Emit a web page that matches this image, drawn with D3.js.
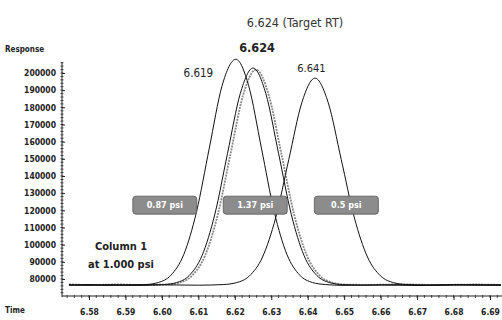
<!DOCTYPE html>
<html lang="en">
<head>
<meta charset="utf-8">
<title>Chromatogram</title>
<script src="https://d3js.org/d3.v7.min.js"></script>
<style>
  body { margin: 0; background: #fff; }
  svg text { font-family: "DejaVu Sans Condensed", "DejaVu Sans", sans-serif; }
  .tick text { font-weight: bold; font-size: 8.5px; fill: #222; }
  .axis path, .axis line { stroke: #222; }
</style>
</head>
<body>
<script>
// time (min), response
var peak619 = [[6.5745,76400],[6.580,76750],[6.585,76250],[6.590,76650],[6.5955,76790],[6.599,77960],[6.6025,82275],
  [6.606,94290],[6.6095,119200],[6.613,156255],[6.6165,192550],[6.6203,208000],[6.6238,192550],[6.6273,156255],
  [6.6308,119200],[6.6343,94290],[6.6378,82275],[6.6413,77960],[6.6448,76790],[6.650,76300],[6.660,76550],
  [6.670,76250],[6.680,76600],[6.693,76350]];
var peak624 = [[6.5745,76600],[6.580,76300],[6.586,76700],[6.592,76350],[6.6005,76780],[6.604,77900],[6.6075,82050],
  [6.611,93600],[6.6145,117540],[6.618,153160],[6.6215,188050],[6.625,202900],[6.6285,188050],[6.632,153160],
  [6.6355,117540],[6.639,93600],[6.6425,82050],[6.646,77900],[6.6495,76780],[6.656,76450],[6.665,76700],
  [6.675,76300],[6.685,76650],[6.693,76450]];
var peakTarget = [[6.5745,76900],[6.581,76500],[6.588,76850],[6.594,76500],[6.6013,76780],[6.6048,77890],[6.6083,82010],
  [6.6118,93480],[6.6153,117250],[6.6188,152620],[6.6223,187250],[6.6258,202000],[6.6293,187250],[6.6328,152620],
  [6.6363,117250],[6.6398,93480],[6.6433,82010],[6.6468,77890],[6.6503,76780],[6.657,76600],[6.666,76850],
  [6.676,76550],[6.686,76800],[6.693,76600]];
var peak641 = [[6.5745,76500],[6.582,76650],[6.590,76300],[6.600,76600],[6.610,76400],[6.6168,76765],[6.6204,77840],
  [6.624,81790],[6.6276,92800],[6.6312,115630],[6.6348,149580],[6.6384,182840],[6.642,197000],[6.6456,182840],
  [6.6492,149580],[6.6528,115630],[6.6564,92800],[6.660,81790],[6.6636,77840],[6.6672,76765],[6.672,76500],
  [6.680,76750],[6.687,76400],[6.693,76600]];

var xTicks = [6.58, 6.59, 6.60, 6.61, 6.62, 6.63, 6.64, 6.65, 6.66, 6.67, 6.68, 6.69];
var yTicks = [80000, 90000, 100000, 110000, 120000, 130000, 140000, 150000, 160000, 170000, 180000, 190000, 200000];

var peakLabels = [
  {t: 6.6261, v: 212230, text: "6.624", bold: true, size: 12.5},
  {t: 6.6100, v: 197670, text: "6.619", bold: false, size: 11.5},
  {t: 6.6410, v: 200580, text: "6.641", bold: false, size: 11}
];
var pressureLabels = [
  {t: 6.6008, v: 123000, text: "0.87 psi"},
  {t: 6.6256, v: 123000, text: "1.37 psi"},
  {t: 6.6506, v: 123000, text: "0.5 psi"}
];

var width = 502, height = 320;
var x = d3.scaleLinear().domain([6.58, 6.69]).range([89, 490]);
var y = d3.scaleLinear().domain([80000, 200000]).range([279, 73]);

var svg = d3.select("body").append("svg")
  .attr("width", width)
  .attr("height", height);

// axes
var yAxis = svg.append("g").attr("class", "axis")
  .attr("transform", "translate(62,0)")
  .call(d3.axisLeft(y).tickValues(yTicks).tickSize(-3).tickPadding(6).tickFormat(d3.format("d")));
yAxis.select(".domain").remove();
yAxis.append("line").attr("x1", 0).attr("x2", 0).attr("y1", 62).attr("y2", 297).attr("stroke", "#222");
yAxis.selectAll(".minor").data(d3.range(72000, 220000, 2000))
  .enter().append("line")
  .attr("x1", -1.5).attr("x2", 1.5)
  .attr("y1", function(d) { return y(d); }).attr("y2", function(d) { return y(d); })
  .attr("stroke", "#222").attr("stroke-width", 0.8)
  .filter(function(d) { return y(d) < 62 || y(d) > 297; }).remove();

var xAxis = svg.append("g").attr("class", "axis")
  .attr("transform", "translate(0,296)")
  .call(d3.axisBottom(x).tickValues(xTicks).tickSize(4).tickPadding(9).tickFormat(d3.format(".2f")));
xAxis.select(".domain").remove();
xAxis.append("line").attr("x1", 62).attr("x2", 502).attr("y1", 0).attr("y2", 0).attr("stroke", "#222");
xAxis.selectAll(".minor").data(d3.range(6.574, 6.694, 0.002))
  .enter().append("line")
  .attr("x1", function(d) { return x(d); }).attr("x2", function(d) { return x(d); })
  .attr("y1", -1).attr("y2", 2)
  .attr("stroke", "#222").attr("stroke-width", 0.8);

svg.append("text").attr("x", 5).attr("y", 52)
  .attr("font-size", 8).attr("font-weight", "bold").attr("fill", "#222").text("Response");
svg.append("text").attr("x", 5).attr("y", 313)
  .attr("font-size", 8).attr("font-weight", "bold").attr("fill", "#222").text("Time");

// traces
var line = d3.line()
  .x(function(d) { return x(d[0]); })
  .y(function(d) { return y(d[1]); })
  .curve(d3.curveMonotoneX);

svg.append("path").datum(peakTarget).attr("d", line)
  .attr("fill", "none").attr("stroke", "#888").attr("stroke-width", 1.8).attr("stroke-dasharray", "2,1");
[peak619, peak624, peak641].forEach(function(s) {
  svg.append("path").datum(s).attr("d", line)
    .attr("fill", "none").attr("stroke", "#111").attr("stroke-width", 1);
});

// pressure boxes
var pb = svg.selectAll(".pbox").data(pressureLabels).enter().append("g")
  .attr("transform", function(d) { return "translate(" + x(d.t) + "," + y(d.v) + ")"; });
pb.append("rect").attr("x", -32).attr("y", -9).attr("width", 64).attr("height", 18).attr("rx", 3)
  .attr("fill", "#8c8c8c").attr("stroke", "#555").attr("stroke-width", 0.8);
pb.append("text").attr("text-anchor", "middle").attr("dy", "0.35em")
  .attr("font-size", 9).attr("font-weight", "bold").attr("fill", "#fff")
  .text(function(d) { return d.text; });

// peak labels
svg.selectAll(".plabel").data(peakLabels).enter().append("text")
  .attr("x", function(d) { return x(d.t); })
  .attr("y", function(d) { return y(d.v); })
  .attr("text-anchor", "middle")
  .attr("font-size", function(d) { return d.size; })
  .attr("font-weight", function(d) { return d.bold ? "bold" : "normal"; })
  .attr("fill", "#222")
  .text(function(d) { return d.text; });

svg.append("text").attr("x", 295).attr("y", 27).attr("text-anchor", "middle")
  .attr("font-size", 12.5).attr("fill", "#333").text("6.624 (Target RT)");

var col = svg.append("text").attr("text-anchor", "middle")
  .attr("font-size", 11).attr("font-weight", "bold").attr("fill", "#222");
col.append("tspan").attr("x", 121).attr("y", 250).text("Column 1");
col.append("tspan").attr("x", 121).attr("y", 268).text("at 1.000 psi");
</script>
</body>
</html>
